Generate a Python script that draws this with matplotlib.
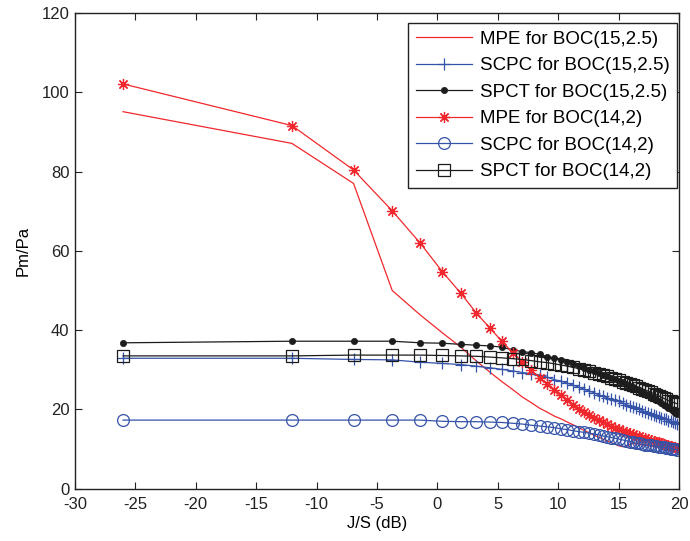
import matplotlib
matplotlib.use("Agg")
import matplotlib.pyplot as plt

plt.rcParams['font.family'] = ['Liberation Sans', 'DejaVu Sans']
plt.rcParams['axes.unicode_minus'] = False

# J/S values (dB)
js_db = [-26.02, -12.04, -6.94, -3.74, -1.41, 0.42, 1.94, 3.23, 4.35, 5.34,
         6.24, 7.04, 7.78, 8.46, 9.10, 9.69, 10.24, 10.76, 11.25, 11.71,
         12.15, 12.57, 12.97, 13.35, 13.71, 14.07, 14.40, 14.73, 15.04, 15.34,
         15.64, 15.92, 16.19, 16.46, 16.71, 16.96, 17.21, 17.44, 17.67, 17.90,
         18.12, 18.33, 18.54, 18.74, 18.94, 19.13, 19.32, 19.51, 19.69, 19.87]

mpe_15 = [95.1, 87.1, 77.0, 50.0, 43.8, 39.3, 35.7, 32.2, 29.4, 27.0,
          25.0, 23.1, 21.7, 20.3, 19.3, 18.3, 17.6, 16.8, 16.1, 15.4,
          14.7, 14.1, 13.5, 13.0, 12.5, 12.0, 11.6, 11.2, 10.8, 10.6,
          10.6, 11.2, 11.4, 11.3, 11.2, 11.0, 10.9, 10.8, 10.7, 10.6,
          10.5, 10.4, 10.3, 10.2, 10.1, 10.0, 9.9, 9.8, 9.7, 9.6]

scpc_15 = [32.9, 32.9, 32.6, 32.5, 31.9, 31.6, 31.3, 30.9, 30.5, 30.1,
           29.7, 29.3, 29.0, 28.7, 28.1, 27.5, 27.1, 26.6, 26.1, 25.6,
           25.1, 24.6, 24.2, 23.7, 23.3, 22.9, 22.6, 22.3, 22.0, 21.6,
           21.2, 20.9, 20.6, 20.3, 20.0, 19.7, 19.4, 19.2, 18.9, 18.7,
           18.4, 18.2, 17.9, 17.7, 17.5, 17.2, 17.0, 16.7, 16.5, 16.2]

spct_15 = [36.8, 37.2, 37.2, 37.2, 36.8, 36.7, 36.4, 36.2, 36.0, 35.7,
           35.0, 34.6, 34.3, 33.9, 33.3, 32.9, 32.4, 31.9, 31.5, 31.0,
           30.5, 30.0, 29.6, 29.2, 28.8, 28.4, 28.0, 27.6, 27.2, 26.8,
           26.4, 26.0, 25.6, 25.2, 24.8, 24.4, 24.0, 23.6, 23.2, 22.8,
           22.4, 22.0, 21.6, 21.2, 20.8, 20.4, 20.0, 19.6, 19.2, 18.8]

mpe_14 = [102.1, 91.6, 80.4, 70.1, 61.9, 54.7, 49.3, 44.3, 40.5, 37.2,
          34.3, 32.0, 29.9, 28.0, 26.5, 25.0, 23.6, 22.4, 21.2, 20.1,
          19.3, 18.6, 17.9, 17.3, 16.8, 16.3, 15.8, 15.4, 15.0, 14.6,
          14.3, 14.0, 13.7, 13.4, 13.2, 12.9, 12.7, 12.5, 12.3, 12.1,
          11.9, 11.7, 11.5, 11.3, 11.1, 10.9, 10.8, 10.6, 10.4, 10.2]

scpc_14 = [17.3, 17.3, 17.3, 17.3, 17.3, 17.0, 16.9, 16.9, 16.8, 16.7,
           16.5, 16.3, 16.0, 15.8, 15.6, 15.4, 15.1, 14.9, 14.6, 14.4,
           14.2, 14.0, 13.8, 13.6, 13.3, 13.1, 12.9, 12.7, 12.5, 12.3,
           12.1, 11.9, 11.7, 11.5, 11.4, 11.2, 11.1, 11.0, 10.9, 10.8,
           10.7, 10.6, 10.5, 10.4, 10.3, 10.2, 10.1, 10.0, 9.9, 9.8]

spct_14 = [33.5, 33.5, 33.7, 33.7, 33.7, 33.6, 33.5, 33.4, 33.2, 33.0,
           32.8, 32.6, 32.3, 32.0, 31.8, 31.5, 31.2, 30.9, 30.6, 30.3,
           30.0, 29.6, 29.2, 28.9, 28.6, 28.3, 28.0, 27.7, 27.4, 27.0,
           26.7, 26.4, 26.1, 25.8, 25.5, 25.2, 24.9, 24.6, 24.3, 24.0,
           23.7, 23.4, 23.1, 22.8, 22.5, 22.2, 22.0, 21.8, 21.6, 21.4]

labels = ["MPE for BOC(15,2.5)", "SCPC for BOC(15,2.5)", "SPCT for BOC(15,2.5)",
          "MPE for BOC(14,2)", "SCPC for BOC(14,2)", "SPCT for BOC(14,2)"]

red = '#f0282d'
blue = '#3553a8'
black = '#1c1c1c'

fig = plt.figure(figsize=(6.9, 5.41), dpi=100)
ax = fig.add_axes([0.1087, 0.0967, 0.8753, 0.8793])

ax.plot(js_db, mpe_15, color=red, lw=0.9, label=labels[0])
ax.plot(js_db, scpc_15, color=blue, lw=0.9, marker='+', ms=8, mew=0.9, label=labels[1])
ax.plot(js_db, spct_15, color=black, lw=0.9, marker='o', ms=4.5, mew=0.5,
        mfc=black, mec=black, label=labels[2])
ax.plot(js_db, mpe_14, color=red, lw=0.9, marker=(8, 2, 0), ms=8, mew=0.9,
        mec=red, label=labels[3])
ax.plot(js_db, scpc_14, color=blue, lw=0.9, marker='o', ms=8.5, mfc='none', mew=0.9,
        label=labels[4])
ax.plot(js_db, spct_14, color=black, lw=0.9, marker='s', ms=8, mfc='none', mew=0.9,
        label=labels[5])

ax.set_xlim(-30, 20)
ax.set_ylim(0, 120)
ax.set_xticks(range(-30, 21, 5))
ax.set_yticks(range(0, 121, 20))
ax.tick_params(direction='in', top=True, right=True, length=5, width=0.8,
               labelsize=12, colors='#222222')
ax.tick_params(axis='x', pad=6)
ax.tick_params(axis='y', pad=4)
for s in ax.spines.values():
    s.set_linewidth(1.0)
    s.set_color('#222222')
ax.set_xlabel('J/S (dB)', fontsize=12, labelpad=3)
ax.set_ylabel('Pm/Pa', fontsize=12, labelpad=8)

leg = ax.legend(loc='upper right', bbox_to_anchor=(0.9967, 0.979), fontsize=13.5,
                fancybox=False, framealpha=1, edgecolor='#222222',
                handlelength=3.0, borderpad=0.4, labelspacing=0.5,
                handletextpad=0.4, borderaxespad=0.0)
leg.get_frame().set_linewidth(1.0)

fig.savefig('out.png', dpi=100)
